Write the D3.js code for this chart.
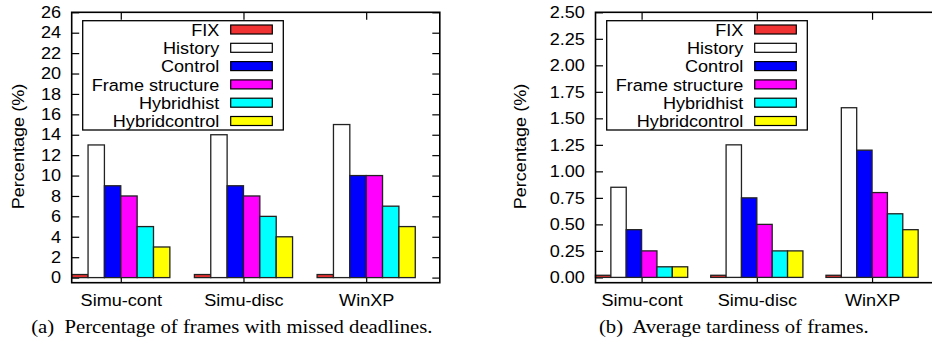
<!DOCTYPE html>
<html>
<head>
<script src="https://d3js.org/d3.v7.min.js"></script>
<style>
  body { margin: 0; background: #fff; }
  svg { display: block; }
  text { font-family: "Liberation Sans", Arial, sans-serif; font-size: 16.3px; fill: #000; }
  .cap { font-family: "Liberation Serif", "Times New Roman", serif; font-size: 18.5px; white-space: pre; }
</style>
</head>
<body>
<svg id="chart" width="932" height="344"></svg>
<script>
// data
var groups = ["Simu-cont", "Simu-disc", "WinXP"];
var series = ["FIX", "History", "Control", "Frame structure", "Hybridhist", "Hybridcontrol"];
var colors = ["#f03232", "#ffffff", "#0000ff", "#ff00ff", "#00ffff", "#ffff00"];

var missedValues = [
  [0.3, 0.3, 0.3],   // FIX
  [13, 14, 15],      // History
  [9, 9, 10],        // Control
  [8, 8, 10],        // Frame structure
  [5, 6, 7],         // Hybridhist
  [3, 4, 5]          // Hybridcontrol
];
var tardinessValues = [
  [0.02, 0.02, 0.02],
  [0.85, 1.25, 1.6],
  [0.45, 0.75, 1.2],
  [0.25, 0.5, 0.8],
  [0.1, 0.25, 0.6],
  [0.1, 0.25, 0.45]
];
var missedTicks = d3.range(0, 27, 2);
var tardinessTicks = d3.range(0, 2.51, 0.25);

var SX = 1.11; // text is a bit wider than plain Helvetica
var svg = d3.select("#chart");

function drawPanel(p) {
  var g = svg.append("g");
  var x = d3.scaleLinear().domain([-0.4, 2.6]).range([p.left, p.right]);
  var y = d3.scaleLinear().domain(p.ydomain).range([p.bottom, p.top]);
  var bw = (x(1) - x(0)) * 0.8 / series.length;

  // ticks (inward), drawn first so bars cover them
  var yl = g.append("g").attr("transform", "translate(" + p.left + ",0)")
    .call(d3.axisLeft(y).tickValues(p.ticks).tickFormat(p.fmt).tickSizeInner(-7.5).tickSizeOuter(0).tickPadding(10.7));
  yl.selectAll("text").attr("x", -10.7 / SX).attr("transform", "scale(" + SX + ",1)");
  g.append("g").attr("transform", "translate(" + p.right + ",0)")
    .call(d3.axisRight(y).tickValues(p.ticks).tickFormat("").tickSizeInner(-7.5).tickSizeOuter(0));
  var xb = g.append("g").attr("transform", "translate(0," + p.bottom + ")")
    .call(d3.axisBottom(x).tickValues([0, 1, 2]).tickFormat(function(d) { return groups[d]; }).tickSizeInner(-7.5).tickSizeOuter(0));
  xb.selectAll("text").attr("y", 23.8).attr("dy", 0).attr("transform", "scale(" + SX + ",1)");
  g.append("g").attr("transform", "translate(0," + p.top + ")")
    .call(d3.axisTop(x).tickValues([0, 1, 2]).tickFormat("").tickSizeInner(-7.5).tickSizeOuter(0));
  g.selectAll(".domain").remove();
  g.selectAll(".tick line").attr("stroke", "#000").attr("stroke-width", 1.2);

  // bars
  p.values.forEach(function(vals, si) {
    g.selectAll(null).data(vals).enter().append("rect")
      .attr("x", function(d, i) { return x(i) - 0.4 * (x(1) - x(0)) + si * bw; })
      .attr("y", function(d) { return y(d); })
      .attr("width", bw)
      .attr("height", function(d) { return y(0) - y(d); })
      .attr("fill", colors[si])
      .attr("stroke", "#222")
      .attr("stroke-width", 1.3);
  });

  // frame
  g.append("rect").attr("x", p.left).attr("y", p.top)
    .attr("width", p.right - p.left).attr("height", p.bottom - p.top)
    .attr("fill", "none").attr("stroke", "#000").attr("stroke-width", 1.6);

  // legend
  var lg = g.append("g");
  lg.append("rect").attr("x", p.lx).attr("y", 20.7).attr("width", 200.6).attr("height", 109.3)
    .attr("fill", "#fff").attr("stroke", "#000").attr("stroke-width", 1.3);
  series.forEach(function(s, i) {
    var cy = 29.5 + i * 18.3;
    lg.append("rect").attr("x", p.lx + 148).attr("y", cy - 4.5).attr("width", 41.6).attr("height", 9)
      .attr("fill", colors[i]).attr("stroke", "#000").attr("stroke-width", 1.2);
    lg.append("text").attr("transform", "translate(" + (p.lx + 136.6) + "," + (cy + 6.2) + ") scale(" + SX + ",1)")
      .attr("text-anchor", "end").text(s);
  });

  // y label
  g.append("text").attr("transform", "translate(" + p.ylabX + ",146.5) rotate(-90) scale(" + SX + ",1)")
    .attr("text-anchor", "middle").attr("dy", "0.35em").text("Percentage (%)");

  // caption
  g.append("text").attr("class", "cap")
    .attr("transform", "translate(" + p.capX + ",333.3) scale(1.12,1)")
    .attr("text-anchor", "middle").text(p.caption);
}

drawPanel({
  left: 71.7, right: 439.8, top: 12.3, bottom: 282.7,
  ydomain: [-0.5, 26], ticks: missedTicks, fmt: d3.format("d"),
  values: missedValues, lx: 82.7, ylabX: 18.5, capX: 231.8,
  caption: "(a)  Percentage of frames with missed deadlines."
});
drawPanel({
  left: 595.5, right: 941.2, top: 12.3, bottom: 282.7,
  ydomain: [-0.05, 2.5], ticks: tardinessTicks, fmt: d3.format(".2f"),
  values: tardinessValues, lx: 606.7, ylabX: 520, capX: 733.8,
  caption: "(b)  Average tardiness of frames."
});
</script>
</body>
</html>
